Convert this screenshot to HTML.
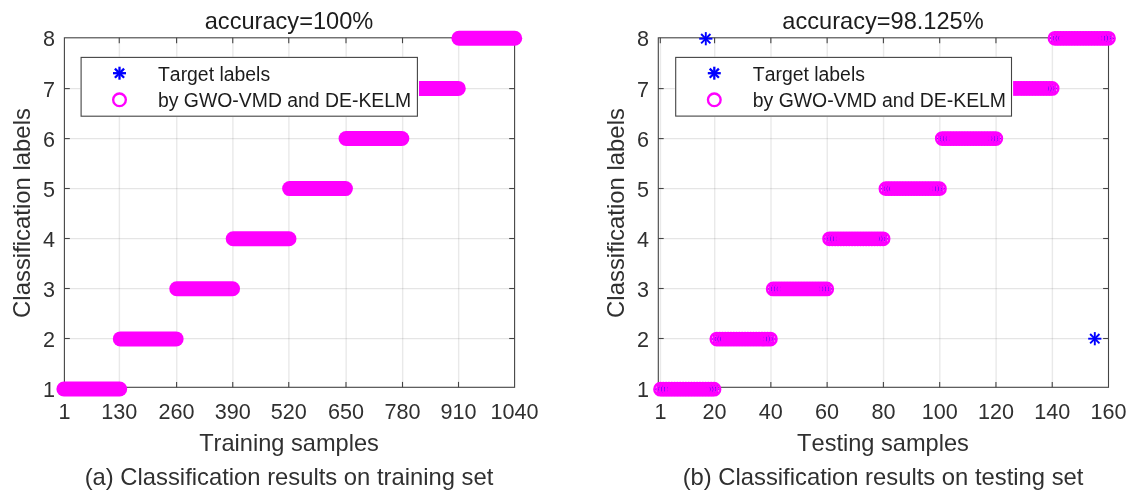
<!DOCTYPE html>
<html><head><meta charset="utf-8"><title>Classification results</title>
<style>html,body{margin:0;padding:0;background:#ffffff;}body{width:1135px;height:501px;overflow:hidden;font-family:"Liberation Sans",sans-serif;}svg{display:block;font-family:"Liberation Sans",sans-serif;font-kerning:none;}</style>
</head><body>
<svg width="1135" height="501" viewBox="0 0 1135 501">
<defs><filter id="idf" filterUnits="userSpaceOnUse" x="0" y="0" width="1135" height="501"><feColorMatrix type="matrix" values="1 0 0 0 0 0 1 0 0 0 0 0 1 0 0 0 0 0 1 0"/></filter></defs>
<rect x="0" y="0" width="1135" height="501" fill="#ffffff"/>
<g filter="url(#idf)">
<g stroke="#000000" stroke-opacity="0.085" stroke-width="1.45">
<line x1="119.40" y1="37.8" x2="119.40" y2="387.3"/>
<line x1="176.75" y1="37.8" x2="176.75" y2="387.3"/>
<line x1="232.90" y1="37.8" x2="232.90" y2="387.3"/>
<line x1="288.90" y1="37.8" x2="288.90" y2="387.3"/>
<line x1="346.15" y1="37.8" x2="346.15" y2="387.3"/>
<line x1="402.65" y1="37.8" x2="402.65" y2="387.3"/>
<line x1="458.65" y1="37.8" x2="458.65" y2="387.3"/>
</g>
<g stroke="#000000" stroke-opacity="0.10" stroke-width="1.2">
<line x1="64.4" y1="88.70" x2="514.6" y2="88.70"/>
<line x1="64.4" y1="138.70" x2="514.6" y2="138.70"/>
<line x1="64.4" y1="188.60" x2="514.6" y2="188.60"/>
<line x1="64.4" y1="238.60" x2="514.6" y2="238.60"/>
<line x1="64.4" y1="288.60" x2="514.6" y2="288.60"/>
<line x1="64.4" y1="338.60" x2="514.6" y2="338.60"/>
</g>
<g stroke="#444444" stroke-width="1.1" fill="none">
<rect x="64.4" y="37.8" width="450.20000000000005" height="349.5"/>
<line x1="119.25" y1="387.3" x2="119.25" y2="381.90000000000003"/>
<line x1="119.25" y1="37.8" x2="119.25" y2="43.199999999999996"/>
<line x1="176.6" y1="387.3" x2="176.6" y2="381.90000000000003"/>
<line x1="176.6" y1="37.8" x2="176.6" y2="43.199999999999996"/>
<line x1="232.75" y1="387.3" x2="232.75" y2="381.90000000000003"/>
<line x1="232.75" y1="37.8" x2="232.75" y2="43.199999999999996"/>
<line x1="288.75" y1="387.3" x2="288.75" y2="381.90000000000003"/>
<line x1="288.75" y1="37.8" x2="288.75" y2="43.199999999999996"/>
<line x1="346.0" y1="387.3" x2="346.0" y2="381.90000000000003"/>
<line x1="346.0" y1="37.8" x2="346.0" y2="43.199999999999996"/>
<line x1="402.5" y1="387.3" x2="402.5" y2="381.90000000000003"/>
<line x1="402.5" y1="37.8" x2="402.5" y2="43.199999999999996"/>
<line x1="458.5" y1="387.3" x2="458.5" y2="381.90000000000003"/>
<line x1="458.5" y1="37.8" x2="458.5" y2="43.199999999999996"/>
<line x1="64.4" y1="88.6" x2="69.80000000000001" y2="88.6"/>
<line x1="514.6" y1="88.6" x2="509.20000000000005" y2="88.6"/>
<line x1="64.4" y1="138.6" x2="69.80000000000001" y2="138.6"/>
<line x1="514.6" y1="138.6" x2="509.20000000000005" y2="138.6"/>
<line x1="64.4" y1="188.5" x2="69.80000000000001" y2="188.5"/>
<line x1="514.6" y1="188.5" x2="509.20000000000005" y2="188.5"/>
<line x1="64.4" y1="238.5" x2="69.80000000000001" y2="238.5"/>
<line x1="514.6" y1="238.5" x2="509.20000000000005" y2="238.5"/>
<line x1="64.4" y1="288.5" x2="69.80000000000001" y2="288.5"/>
<line x1="514.6" y1="288.5" x2="509.20000000000005" y2="288.5"/>
<line x1="64.4" y1="338.5" x2="69.80000000000001" y2="338.5"/>
<line x1="514.6" y1="338.5" x2="509.20000000000005" y2="338.5"/>
</g>
<rect x="56.40" y="381.50" width="70.80" height="15.00" rx="7.5" ry="7.5" fill="#ff00ff"/>
<rect x="112.83" y="331.40" width="70.80" height="15.00" rx="7.5" ry="7.5" fill="#ff00ff"/>
<rect x="169.26" y="281.30" width="70.80" height="15.00" rx="7.5" ry="7.5" fill="#ff00ff"/>
<rect x="225.69" y="231.20" width="70.80" height="15.00" rx="7.5" ry="7.5" fill="#ff00ff"/>
<rect x="282.12" y="181.10" width="70.80" height="15.00" rx="7.5" ry="7.5" fill="#ff00ff"/>
<rect x="338.55" y="131.00" width="70.80" height="15.00" rx="7.5" ry="7.5" fill="#ff00ff"/>
<rect x="394.98" y="80.90" width="70.80" height="15.00" rx="7.5" ry="7.5" fill="#ff00ff"/>
<rect x="451.41" y="30.80" width="70.80" height="15.00" rx="7.5" ry="7.5" fill="#ff00ff"/>
<rect x="80.3" y="56.8" width="338.70" height="60.20" fill="#ffffff"/>
<rect x="81.1" y="57.4" width="336.30" height="58.80" fill="#ffffff" stroke="#444444" stroke-width="1.1"/>
<g stroke="#0000ff" stroke-width="2.3" stroke-linecap="butt"><line x1="113.00" y1="73.20" x2="126.00" y2="73.20"/><line x1="114.90" y1="68.60" x2="124.10" y2="77.80"/><line x1="119.50" y1="66.70" x2="119.50" y2="79.70"/><line x1="124.10" y1="68.60" x2="114.90" y2="77.80"/></g>
<circle cx="119.5" cy="99.8" r="6.35" fill="none" stroke="#ff00ff" stroke-width="2.35"/>
<g font-size="19.4" fill="#1c1c1c">
<text x="158.0" y="80.9">Target labels</text>
<text x="158.0" y="106.7">by GWO-VMD and DE-KELM</text>
</g>
<g font-size="21.6" fill="#303030">
<text x="64.4" y="419.2" text-anchor="middle">1</text>
<text x="119.25" y="419.2" text-anchor="middle">130</text>
<text x="176.6" y="419.2" text-anchor="middle">260</text>
<text x="232.75" y="419.2" text-anchor="middle">390</text>
<text x="288.75" y="419.2" text-anchor="middle">520</text>
<text x="346.0" y="419.2" text-anchor="middle">650</text>
<text x="402.5" y="419.2" text-anchor="middle">780</text>
<text x="458.5" y="419.2" text-anchor="middle">910</text>
<text x="514.6" y="419.2" text-anchor="middle">1040</text>
<text x="55.0" y="397.4" text-anchor="end">1</text>
<text x="55.0" y="347.25" text-anchor="end">2</text>
<text x="55.0" y="297.09999999999997" text-anchor="end">3</text>
<text x="55.0" y="246.95" text-anchor="end">4</text>
<text x="55.0" y="196.79999999999998" text-anchor="end">5</text>
<text x="55.0" y="146.64999999999998" text-anchor="end">6</text>
<text x="55.0" y="96.5" text-anchor="end">7</text>
<text x="55.0" y="46.349999999999966" text-anchor="end">8</text>
</g>
<text x="289.0" y="29.0" font-size="23.6" fill="#1c1c1c" text-anchor="middle">accuracy=100%</text>
<text x="289.0" y="451.3" font-size="23.6" fill="#303030" text-anchor="middle">Training samples</text>
<text transform="translate(30.0,213.0) rotate(-90)" font-size="23.9" fill="#303030" text-anchor="middle">Classification labels</text>
<text x="289.0" y="484.6" font-size="23.8" fill="#303030" text-anchor="middle">(a) Classification results on training set</text>
<g stroke="#000000" stroke-opacity="0.085" stroke-width="1.45">
<line x1="660.45" y1="37.8" x2="660.45" y2="387.3"/>
<line x1="714.72" y1="37.8" x2="714.72" y2="387.3"/>
<line x1="771.00" y1="37.8" x2="771.00" y2="387.3"/>
<line x1="827.27" y1="37.8" x2="827.27" y2="387.3"/>
<line x1="883.55" y1="37.8" x2="883.55" y2="387.3"/>
<line x1="939.82" y1="37.8" x2="939.82" y2="387.3"/>
<line x1="996.10" y1="37.8" x2="996.10" y2="387.3"/>
<line x1="1052.38" y1="37.8" x2="1052.38" y2="387.3"/>
</g>
<g stroke="#000000" stroke-opacity="0.10" stroke-width="1.2">
<line x1="658.3" y1="88.70" x2="1108.5" y2="88.70"/>
<line x1="658.3" y1="138.70" x2="1108.5" y2="138.70"/>
<line x1="658.3" y1="188.60" x2="1108.5" y2="188.60"/>
<line x1="658.3" y1="238.60" x2="1108.5" y2="238.60"/>
<line x1="658.3" y1="288.60" x2="1108.5" y2="288.60"/>
<line x1="658.3" y1="338.60" x2="1108.5" y2="338.60"/>
</g>
<g stroke="#444444" stroke-width="1.1" fill="none">
<rect x="658.3" y="37.8" width="450.20000000000005" height="349.5"/>
<line x1="660.3" y1="387.3" x2="660.3" y2="381.90000000000003"/>
<line x1="660.3" y1="37.8" x2="660.3" y2="43.199999999999996"/>
<line x1="714.5749999999999" y1="387.3" x2="714.5749999999999" y2="381.90000000000003"/>
<line x1="714.5749999999999" y1="37.8" x2="714.5749999999999" y2="43.199999999999996"/>
<line x1="770.8499999999999" y1="387.3" x2="770.8499999999999" y2="381.90000000000003"/>
<line x1="770.8499999999999" y1="37.8" x2="770.8499999999999" y2="43.199999999999996"/>
<line x1="827.125" y1="387.3" x2="827.125" y2="381.90000000000003"/>
<line x1="827.125" y1="37.8" x2="827.125" y2="43.199999999999996"/>
<line x1="883.4" y1="387.3" x2="883.4" y2="381.90000000000003"/>
<line x1="883.4" y1="37.8" x2="883.4" y2="43.199999999999996"/>
<line x1="939.675" y1="387.3" x2="939.675" y2="381.90000000000003"/>
<line x1="939.675" y1="37.8" x2="939.675" y2="43.199999999999996"/>
<line x1="995.95" y1="387.3" x2="995.95" y2="381.90000000000003"/>
<line x1="995.95" y1="37.8" x2="995.95" y2="43.199999999999996"/>
<line x1="1052.225" y1="387.3" x2="1052.225" y2="381.90000000000003"/>
<line x1="1052.225" y1="37.8" x2="1052.225" y2="43.199999999999996"/>
<line x1="658.3" y1="88.6" x2="663.6999999999999" y2="88.6"/>
<line x1="1108.5" y1="88.6" x2="1103.1" y2="88.6"/>
<line x1="658.3" y1="138.6" x2="663.6999999999999" y2="138.6"/>
<line x1="1108.5" y1="138.6" x2="1103.1" y2="138.6"/>
<line x1="658.3" y1="188.5" x2="663.6999999999999" y2="188.5"/>
<line x1="1108.5" y1="188.5" x2="1103.1" y2="188.5"/>
<line x1="658.3" y1="238.5" x2="663.6999999999999" y2="238.5"/>
<line x1="1108.5" y1="238.5" x2="1103.1" y2="238.5"/>
<line x1="658.3" y1="288.5" x2="663.6999999999999" y2="288.5"/>
<line x1="1108.5" y1="288.5" x2="1103.1" y2="288.5"/>
<line x1="658.3" y1="338.5" x2="663.6999999999999" y2="338.5"/>
<line x1="1108.5" y1="338.5" x2="1103.1" y2="338.5"/>
</g>
<rect x="661.50" y="383.95" width="51.53" height="10.4" fill="#ff00ff"/>
<rect x="717.85" y="333.83" width="51.53" height="10.4" fill="#ff00ff"/>
<rect x="774.20" y="283.71" width="51.53" height="10.4" fill="#ff00ff"/>
<rect x="830.56" y="233.59" width="51.53" height="10.4" fill="#ff00ff"/>
<rect x="886.91" y="183.47" width="51.53" height="10.4" fill="#ff00ff"/>
<rect x="943.26" y="133.35" width="51.53" height="10.4" fill="#ff00ff"/>
<rect x="999.61" y="83.23" width="51.53" height="10.4" fill="#ff00ff"/>
<rect x="1055.97" y="33.11" width="51.53" height="10.4" fill="#ff00ff"/>
<g stroke="#0000ff" stroke-width="1.3" stroke-linecap="butt">
<line x1="654.00" y1="389.15" x2="667.00" y2="389.15"/>
<line x1="655.90" y1="384.55" x2="665.10" y2="393.75"/>
<line x1="660.50" y1="382.65" x2="660.50" y2="395.65"/>
<line x1="665.10" y1="384.55" x2="655.90" y2="393.75"/>
<line x1="656.82" y1="389.15" x2="669.82" y2="389.15"/>
<line x1="658.72" y1="384.55" x2="667.91" y2="393.75"/>
<line x1="663.32" y1="382.65" x2="663.32" y2="395.65"/>
<line x1="667.91" y1="384.55" x2="658.72" y2="393.75"/>
<line x1="659.64" y1="389.15" x2="672.64" y2="389.15"/>
<line x1="661.54" y1="384.55" x2="670.73" y2="393.75"/>
<line x1="666.14" y1="382.65" x2="666.14" y2="395.65"/>
<line x1="670.73" y1="384.55" x2="661.54" y2="393.75"/>
<line x1="701.90" y1="389.15" x2="714.90" y2="389.15"/>
<line x1="703.80" y1="384.55" x2="713.00" y2="393.75"/>
<line x1="708.40" y1="382.65" x2="708.40" y2="395.65"/>
<line x1="713.00" y1="384.55" x2="703.80" y2="393.75"/>
<line x1="704.72" y1="389.15" x2="717.72" y2="389.15"/>
<line x1="706.62" y1="384.55" x2="715.81" y2="393.75"/>
<line x1="711.22" y1="382.65" x2="711.22" y2="395.65"/>
<line x1="715.81" y1="384.55" x2="706.62" y2="393.75"/>
<line x1="707.53" y1="389.15" x2="720.53" y2="389.15"/>
<line x1="709.44" y1="384.55" x2="718.63" y2="393.75"/>
<line x1="714.03" y1="382.65" x2="714.03" y2="395.65"/>
<line x1="718.63" y1="384.55" x2="709.44" y2="393.75"/>
<line x1="710.35" y1="339.03" x2="723.35" y2="339.03"/>
<line x1="712.26" y1="334.43" x2="721.45" y2="343.63"/>
<line x1="716.85" y1="332.53" x2="716.85" y2="345.53"/>
<line x1="721.45" y1="334.43" x2="712.26" y2="343.63"/>
<line x1="713.17" y1="339.03" x2="726.17" y2="339.03"/>
<line x1="715.07" y1="334.43" x2="724.27" y2="343.63"/>
<line x1="719.67" y1="332.53" x2="719.67" y2="345.53"/>
<line x1="724.27" y1="334.43" x2="715.07" y2="343.63"/>
<line x1="715.99" y1="339.03" x2="728.99" y2="339.03"/>
<line x1="717.89" y1="334.43" x2="727.08" y2="343.63"/>
<line x1="722.49" y1="332.53" x2="722.49" y2="345.53"/>
<line x1="727.08" y1="334.43" x2="717.89" y2="343.63"/>
<line x1="758.25" y1="339.03" x2="771.25" y2="339.03"/>
<line x1="760.16" y1="334.43" x2="769.35" y2="343.63"/>
<line x1="764.75" y1="332.53" x2="764.75" y2="345.53"/>
<line x1="769.35" y1="334.43" x2="760.16" y2="343.63"/>
<line x1="761.07" y1="339.03" x2="774.07" y2="339.03"/>
<line x1="762.97" y1="334.43" x2="772.17" y2="343.63"/>
<line x1="767.57" y1="332.53" x2="767.57" y2="345.53"/>
<line x1="772.17" y1="334.43" x2="762.97" y2="343.63"/>
<line x1="763.89" y1="339.03" x2="776.89" y2="339.03"/>
<line x1="765.79" y1="334.43" x2="774.98" y2="343.63"/>
<line x1="770.39" y1="332.53" x2="770.39" y2="345.53"/>
<line x1="774.98" y1="334.43" x2="765.79" y2="343.63"/>
<line x1="766.70" y1="288.91" x2="779.70" y2="288.91"/>
<line x1="768.61" y1="284.31" x2="777.80" y2="293.51"/>
<line x1="773.20" y1="282.41" x2="773.20" y2="295.41"/>
<line x1="777.80" y1="284.31" x2="768.61" y2="293.51"/>
<line x1="769.52" y1="288.91" x2="782.52" y2="288.91"/>
<line x1="771.43" y1="284.31" x2="780.62" y2="293.51"/>
<line x1="776.02" y1="282.41" x2="776.02" y2="295.41"/>
<line x1="780.62" y1="284.31" x2="771.43" y2="293.51"/>
<line x1="772.34" y1="288.91" x2="785.34" y2="288.91"/>
<line x1="774.24" y1="284.31" x2="783.44" y2="293.51"/>
<line x1="778.84" y1="282.41" x2="778.84" y2="295.41"/>
<line x1="783.44" y1="284.31" x2="774.24" y2="293.51"/>
<line x1="814.60" y1="288.91" x2="827.60" y2="288.91"/>
<line x1="816.51" y1="284.31" x2="825.70" y2="293.51"/>
<line x1="821.10" y1="282.41" x2="821.10" y2="295.41"/>
<line x1="825.70" y1="284.31" x2="816.51" y2="293.51"/>
<line x1="817.42" y1="288.91" x2="830.42" y2="288.91"/>
<line x1="819.33" y1="284.31" x2="828.52" y2="293.51"/>
<line x1="823.92" y1="282.41" x2="823.92" y2="295.41"/>
<line x1="828.52" y1="284.31" x2="819.33" y2="293.51"/>
<line x1="820.24" y1="288.91" x2="833.24" y2="288.91"/>
<line x1="822.14" y1="284.31" x2="831.34" y2="293.51"/>
<line x1="826.74" y1="282.41" x2="826.74" y2="295.41"/>
<line x1="831.34" y1="284.31" x2="822.14" y2="293.51"/>
<line x1="823.06" y1="238.79" x2="836.06" y2="238.79"/>
<line x1="824.96" y1="234.19" x2="834.15" y2="243.39"/>
<line x1="829.56" y1="232.29" x2="829.56" y2="245.29"/>
<line x1="834.15" y1="234.19" x2="824.96" y2="243.39"/>
<line x1="825.87" y1="238.79" x2="838.87" y2="238.79"/>
<line x1="827.78" y1="234.19" x2="836.97" y2="243.39"/>
<line x1="832.37" y1="232.29" x2="832.37" y2="245.29"/>
<line x1="836.97" y1="234.19" x2="827.78" y2="243.39"/>
<line x1="828.69" y1="238.79" x2="841.69" y2="238.79"/>
<line x1="830.60" y1="234.19" x2="839.79" y2="243.39"/>
<line x1="835.19" y1="232.29" x2="835.19" y2="245.29"/>
<line x1="839.79" y1="234.19" x2="830.60" y2="243.39"/>
<line x1="870.96" y1="238.79" x2="883.96" y2="238.79"/>
<line x1="872.86" y1="234.19" x2="882.05" y2="243.39"/>
<line x1="877.46" y1="232.29" x2="877.46" y2="245.29"/>
<line x1="882.05" y1="234.19" x2="872.86" y2="243.39"/>
<line x1="873.77" y1="238.79" x2="886.77" y2="238.79"/>
<line x1="875.68" y1="234.19" x2="884.87" y2="243.39"/>
<line x1="880.27" y1="232.29" x2="880.27" y2="245.29"/>
<line x1="884.87" y1="234.19" x2="875.68" y2="243.39"/>
<line x1="876.59" y1="238.79" x2="889.59" y2="238.79"/>
<line x1="878.50" y1="234.19" x2="887.69" y2="243.39"/>
<line x1="883.09" y1="232.29" x2="883.09" y2="245.29"/>
<line x1="887.69" y1="234.19" x2="878.50" y2="243.39"/>
<line x1="879.41" y1="188.67" x2="892.41" y2="188.67"/>
<line x1="881.31" y1="184.07" x2="890.50" y2="193.27"/>
<line x1="885.91" y1="182.17" x2="885.91" y2="195.17"/>
<line x1="890.50" y1="184.07" x2="881.31" y2="193.27"/>
<line x1="882.23" y1="188.67" x2="895.23" y2="188.67"/>
<line x1="884.13" y1="184.07" x2="893.32" y2="193.27"/>
<line x1="888.73" y1="182.17" x2="888.73" y2="195.17"/>
<line x1="893.32" y1="184.07" x2="884.13" y2="193.27"/>
<line x1="885.04" y1="188.67" x2="898.04" y2="188.67"/>
<line x1="886.95" y1="184.07" x2="896.14" y2="193.27"/>
<line x1="891.54" y1="182.17" x2="891.54" y2="195.17"/>
<line x1="896.14" y1="184.07" x2="886.95" y2="193.27"/>
<line x1="927.31" y1="188.67" x2="940.31" y2="188.67"/>
<line x1="929.21" y1="184.07" x2="938.40" y2="193.27"/>
<line x1="933.81" y1="182.17" x2="933.81" y2="195.17"/>
<line x1="938.40" y1="184.07" x2="929.21" y2="193.27"/>
<line x1="930.13" y1="188.67" x2="943.13" y2="188.67"/>
<line x1="932.03" y1="184.07" x2="941.22" y2="193.27"/>
<line x1="936.63" y1="182.17" x2="936.63" y2="195.17"/>
<line x1="941.22" y1="184.07" x2="932.03" y2="193.27"/>
<line x1="932.94" y1="188.67" x2="945.94" y2="188.67"/>
<line x1="934.85" y1="184.07" x2="944.04" y2="193.27"/>
<line x1="939.44" y1="182.17" x2="939.44" y2="195.17"/>
<line x1="944.04" y1="184.07" x2="934.85" y2="193.27"/>
<line x1="935.76" y1="138.55" x2="948.76" y2="138.55"/>
<line x1="937.66" y1="133.95" x2="946.86" y2="143.15"/>
<line x1="942.26" y1="132.05" x2="942.26" y2="145.05"/>
<line x1="946.86" y1="133.95" x2="937.66" y2="143.15"/>
<line x1="938.58" y1="138.55" x2="951.58" y2="138.55"/>
<line x1="940.48" y1="133.95" x2="949.67" y2="143.15"/>
<line x1="945.08" y1="132.05" x2="945.08" y2="145.05"/>
<line x1="949.67" y1="133.95" x2="940.48" y2="143.15"/>
<line x1="941.40" y1="138.55" x2="954.40" y2="138.55"/>
<line x1="943.30" y1="133.95" x2="952.49" y2="143.15"/>
<line x1="947.90" y1="132.05" x2="947.90" y2="145.05"/>
<line x1="952.49" y1="133.95" x2="943.30" y2="143.15"/>
<line x1="983.66" y1="138.55" x2="996.66" y2="138.55"/>
<line x1="985.56" y1="133.95" x2="994.76" y2="143.15"/>
<line x1="990.16" y1="132.05" x2="990.16" y2="145.05"/>
<line x1="994.76" y1="133.95" x2="985.56" y2="143.15"/>
<line x1="986.48" y1="138.55" x2="999.48" y2="138.55"/>
<line x1="988.38" y1="133.95" x2="997.57" y2="143.15"/>
<line x1="992.98" y1="132.05" x2="992.98" y2="145.05"/>
<line x1="997.57" y1="133.95" x2="988.38" y2="143.15"/>
<line x1="989.30" y1="138.55" x2="1002.30" y2="138.55"/>
<line x1="991.20" y1="133.95" x2="1000.39" y2="143.15"/>
<line x1="995.80" y1="132.05" x2="995.80" y2="145.05"/>
<line x1="1000.39" y1="133.95" x2="991.20" y2="143.15"/>
<line x1="992.11" y1="88.43" x2="1005.11" y2="88.43"/>
<line x1="994.02" y1="83.83" x2="1003.21" y2="93.03"/>
<line x1="998.61" y1="81.93" x2="998.61" y2="94.93"/>
<line x1="1003.21" y1="83.83" x2="994.02" y2="93.03"/>
<line x1="994.93" y1="88.43" x2="1007.93" y2="88.43"/>
<line x1="996.83" y1="83.83" x2="1006.03" y2="93.03"/>
<line x1="1001.43" y1="81.93" x2="1001.43" y2="94.93"/>
<line x1="1006.03" y1="83.83" x2="996.83" y2="93.03"/>
<line x1="997.75" y1="88.43" x2="1010.75" y2="88.43"/>
<line x1="999.65" y1="83.83" x2="1008.84" y2="93.03"/>
<line x1="1004.25" y1="81.93" x2="1004.25" y2="94.93"/>
<line x1="1008.84" y1="83.83" x2="999.65" y2="93.03"/>
<line x1="1040.01" y1="88.43" x2="1053.01" y2="88.43"/>
<line x1="1041.92" y1="83.83" x2="1051.11" y2="93.03"/>
<line x1="1046.51" y1="81.93" x2="1046.51" y2="94.93"/>
<line x1="1051.11" y1="83.83" x2="1041.92" y2="93.03"/>
<line x1="1042.83" y1="88.43" x2="1055.83" y2="88.43"/>
<line x1="1044.73" y1="83.83" x2="1053.93" y2="93.03"/>
<line x1="1049.33" y1="81.93" x2="1049.33" y2="94.93"/>
<line x1="1053.93" y1="83.83" x2="1044.73" y2="93.03"/>
<line x1="1045.65" y1="88.43" x2="1058.65" y2="88.43"/>
<line x1="1047.55" y1="83.83" x2="1056.74" y2="93.03"/>
<line x1="1052.15" y1="81.93" x2="1052.15" y2="94.93"/>
<line x1="1056.74" y1="83.83" x2="1047.55" y2="93.03"/>
<line x1="1048.47" y1="38.31" x2="1061.47" y2="38.31"/>
<line x1="1050.37" y1="33.71" x2="1059.56" y2="42.91"/>
<line x1="1054.97" y1="31.81" x2="1054.97" y2="44.81"/>
<line x1="1059.56" y1="33.71" x2="1050.37" y2="42.91"/>
<line x1="1051.28" y1="38.31" x2="1064.28" y2="38.31"/>
<line x1="1053.19" y1="33.71" x2="1062.38" y2="42.91"/>
<line x1="1057.78" y1="31.81" x2="1057.78" y2="44.81"/>
<line x1="1062.38" y1="33.71" x2="1053.19" y2="42.91"/>
<line x1="1054.10" y1="38.31" x2="1067.10" y2="38.31"/>
<line x1="1056.00" y1="33.71" x2="1065.20" y2="42.91"/>
<line x1="1060.60" y1="31.81" x2="1060.60" y2="44.81"/>
<line x1="1065.20" y1="33.71" x2="1056.00" y2="42.91"/>
<line x1="1096.36" y1="38.31" x2="1109.36" y2="38.31"/>
<line x1="1098.27" y1="33.71" x2="1107.46" y2="42.91"/>
<line x1="1102.86" y1="31.81" x2="1102.86" y2="44.81"/>
<line x1="1107.46" y1="33.71" x2="1098.27" y2="42.91"/>
<line x1="1099.18" y1="38.31" x2="1112.18" y2="38.31"/>
<line x1="1101.09" y1="33.71" x2="1110.28" y2="42.91"/>
<line x1="1105.68" y1="31.81" x2="1105.68" y2="44.81"/>
<line x1="1110.28" y1="33.71" x2="1101.09" y2="42.91"/>
<line x1="1102.00" y1="38.31" x2="1115.00" y2="38.31"/>
<line x1="1103.90" y1="33.71" x2="1113.10" y2="42.91"/>
<line x1="1108.50" y1="31.81" x2="1108.50" y2="44.81"/>
<line x1="1113.10" y1="33.71" x2="1103.90" y2="42.91"/>
</g>
<g fill="none" stroke="#ff00ff" stroke-width="2.5">
<circle cx="660.50" cy="389.15" r="6.15"/>
<circle cx="663.32" cy="389.15" r="6.15"/>
<circle cx="666.14" cy="389.15" r="6.15"/>
<circle cx="668.95" cy="389.15" r="6.15"/>
<circle cx="671.77" cy="389.15" r="6.15"/>
<circle cx="674.59" cy="389.15" r="6.15"/>
<circle cx="677.41" cy="389.15" r="6.15"/>
<circle cx="680.22" cy="389.15" r="6.15"/>
<circle cx="683.04" cy="389.15" r="6.15"/>
<circle cx="685.86" cy="389.15" r="6.15"/>
<circle cx="688.68" cy="389.15" r="6.15"/>
<circle cx="691.49" cy="389.15" r="6.15"/>
<circle cx="694.31" cy="389.15" r="6.15"/>
<circle cx="697.13" cy="389.15" r="6.15"/>
<circle cx="699.95" cy="389.15" r="6.15"/>
<circle cx="702.76" cy="389.15" r="6.15"/>
<circle cx="705.58" cy="389.15" r="6.15"/>
<circle cx="708.40" cy="389.15" r="6.15"/>
<circle cx="711.22" cy="389.15" r="6.15"/>
<circle cx="714.03" cy="389.15" r="6.15"/>
<circle cx="716.85" cy="339.03" r="6.15"/>
<circle cx="719.67" cy="339.03" r="6.15"/>
<circle cx="722.49" cy="339.03" r="6.15"/>
<circle cx="725.31" cy="339.03" r="6.15"/>
<circle cx="728.12" cy="339.03" r="6.15"/>
<circle cx="730.94" cy="339.03" r="6.15"/>
<circle cx="733.76" cy="339.03" r="6.15"/>
<circle cx="736.58" cy="339.03" r="6.15"/>
<circle cx="739.39" cy="339.03" r="6.15"/>
<circle cx="742.21" cy="339.03" r="6.15"/>
<circle cx="745.03" cy="339.03" r="6.15"/>
<circle cx="747.85" cy="339.03" r="6.15"/>
<circle cx="750.66" cy="339.03" r="6.15"/>
<circle cx="753.48" cy="339.03" r="6.15"/>
<circle cx="756.30" cy="339.03" r="6.15"/>
<circle cx="759.12" cy="339.03" r="6.15"/>
<circle cx="761.93" cy="339.03" r="6.15"/>
<circle cx="764.75" cy="339.03" r="6.15"/>
<circle cx="767.57" cy="339.03" r="6.15"/>
<circle cx="770.39" cy="339.03" r="6.15"/>
<circle cx="773.20" cy="288.91" r="6.15"/>
<circle cx="776.02" cy="288.91" r="6.15"/>
<circle cx="778.84" cy="288.91" r="6.15"/>
<circle cx="781.66" cy="288.91" r="6.15"/>
<circle cx="784.47" cy="288.91" r="6.15"/>
<circle cx="787.29" cy="288.91" r="6.15"/>
<circle cx="790.11" cy="288.91" r="6.15"/>
<circle cx="792.93" cy="288.91" r="6.15"/>
<circle cx="795.75" cy="288.91" r="6.15"/>
<circle cx="798.56" cy="288.91" r="6.15"/>
<circle cx="801.38" cy="288.91" r="6.15"/>
<circle cx="804.20" cy="288.91" r="6.15"/>
<circle cx="807.02" cy="288.91" r="6.15"/>
<circle cx="809.83" cy="288.91" r="6.15"/>
<circle cx="812.65" cy="288.91" r="6.15"/>
<circle cx="815.47" cy="288.91" r="6.15"/>
<circle cx="818.29" cy="288.91" r="6.15"/>
<circle cx="821.10" cy="288.91" r="6.15"/>
<circle cx="823.92" cy="288.91" r="6.15"/>
<circle cx="826.74" cy="288.91" r="6.15"/>
<circle cx="829.56" cy="238.79" r="6.15"/>
<circle cx="832.37" cy="238.79" r="6.15"/>
<circle cx="835.19" cy="238.79" r="6.15"/>
<circle cx="838.01" cy="238.79" r="6.15"/>
<circle cx="840.83" cy="238.79" r="6.15"/>
<circle cx="843.64" cy="238.79" r="6.15"/>
<circle cx="846.46" cy="238.79" r="6.15"/>
<circle cx="849.28" cy="238.79" r="6.15"/>
<circle cx="852.10" cy="238.79" r="6.15"/>
<circle cx="854.92" cy="238.79" r="6.15"/>
<circle cx="857.73" cy="238.79" r="6.15"/>
<circle cx="860.55" cy="238.79" r="6.15"/>
<circle cx="863.37" cy="238.79" r="6.15"/>
<circle cx="866.19" cy="238.79" r="6.15"/>
<circle cx="869.00" cy="238.79" r="6.15"/>
<circle cx="871.82" cy="238.79" r="6.15"/>
<circle cx="874.64" cy="238.79" r="6.15"/>
<circle cx="877.46" cy="238.79" r="6.15"/>
<circle cx="880.27" cy="238.79" r="6.15"/>
<circle cx="883.09" cy="238.79" r="6.15"/>
<circle cx="885.91" cy="188.67" r="6.15"/>
<circle cx="888.73" cy="188.67" r="6.15"/>
<circle cx="891.54" cy="188.67" r="6.15"/>
<circle cx="894.36" cy="188.67" r="6.15"/>
<circle cx="897.18" cy="188.67" r="6.15"/>
<circle cx="900.00" cy="188.67" r="6.15"/>
<circle cx="902.81" cy="188.67" r="6.15"/>
<circle cx="905.63" cy="188.67" r="6.15"/>
<circle cx="908.45" cy="188.67" r="6.15"/>
<circle cx="911.27" cy="188.67" r="6.15"/>
<circle cx="914.08" cy="188.67" r="6.15"/>
<circle cx="916.90" cy="188.67" r="6.15"/>
<circle cx="919.72" cy="188.67" r="6.15"/>
<circle cx="922.54" cy="188.67" r="6.15"/>
<circle cx="925.36" cy="188.67" r="6.15"/>
<circle cx="928.17" cy="188.67" r="6.15"/>
<circle cx="930.99" cy="188.67" r="6.15"/>
<circle cx="933.81" cy="188.67" r="6.15"/>
<circle cx="936.63" cy="188.67" r="6.15"/>
<circle cx="939.44" cy="188.67" r="6.15"/>
<circle cx="942.26" cy="138.55" r="6.15"/>
<circle cx="945.08" cy="138.55" r="6.15"/>
<circle cx="947.90" cy="138.55" r="6.15"/>
<circle cx="950.71" cy="138.55" r="6.15"/>
<circle cx="953.53" cy="138.55" r="6.15"/>
<circle cx="956.35" cy="138.55" r="6.15"/>
<circle cx="959.17" cy="138.55" r="6.15"/>
<circle cx="961.98" cy="138.55" r="6.15"/>
<circle cx="964.80" cy="138.55" r="6.15"/>
<circle cx="967.62" cy="138.55" r="6.15"/>
<circle cx="970.44" cy="138.55" r="6.15"/>
<circle cx="973.25" cy="138.55" r="6.15"/>
<circle cx="976.07" cy="138.55" r="6.15"/>
<circle cx="978.89" cy="138.55" r="6.15"/>
<circle cx="981.71" cy="138.55" r="6.15"/>
<circle cx="984.53" cy="138.55" r="6.15"/>
<circle cx="987.34" cy="138.55" r="6.15"/>
<circle cx="990.16" cy="138.55" r="6.15"/>
<circle cx="992.98" cy="138.55" r="6.15"/>
<circle cx="995.80" cy="138.55" r="6.15"/>
<circle cx="998.61" cy="88.43" r="6.15"/>
<circle cx="1001.43" cy="88.43" r="6.15"/>
<circle cx="1004.25" cy="88.43" r="6.15"/>
<circle cx="1007.07" cy="88.43" r="6.15"/>
<circle cx="1009.88" cy="88.43" r="6.15"/>
<circle cx="1012.70" cy="88.43" r="6.15"/>
<circle cx="1015.52" cy="88.43" r="6.15"/>
<circle cx="1018.34" cy="88.43" r="6.15"/>
<circle cx="1021.15" cy="88.43" r="6.15"/>
<circle cx="1023.97" cy="88.43" r="6.15"/>
<circle cx="1026.79" cy="88.43" r="6.15"/>
<circle cx="1029.61" cy="88.43" r="6.15"/>
<circle cx="1032.42" cy="88.43" r="6.15"/>
<circle cx="1035.24" cy="88.43" r="6.15"/>
<circle cx="1038.06" cy="88.43" r="6.15"/>
<circle cx="1040.88" cy="88.43" r="6.15"/>
<circle cx="1043.69" cy="88.43" r="6.15"/>
<circle cx="1046.51" cy="88.43" r="6.15"/>
<circle cx="1049.33" cy="88.43" r="6.15"/>
<circle cx="1052.15" cy="88.43" r="6.15"/>
<circle cx="1054.97" cy="38.31" r="6.15"/>
<circle cx="1057.78" cy="38.31" r="6.15"/>
<circle cx="1060.60" cy="38.31" r="6.15"/>
<circle cx="1063.42" cy="38.31" r="6.15"/>
<circle cx="1066.24" cy="38.31" r="6.15"/>
<circle cx="1069.05" cy="38.31" r="6.15"/>
<circle cx="1071.87" cy="38.31" r="6.15"/>
<circle cx="1074.69" cy="38.31" r="6.15"/>
<circle cx="1077.51" cy="38.31" r="6.15"/>
<circle cx="1080.32" cy="38.31" r="6.15"/>
<circle cx="1083.14" cy="38.31" r="6.15"/>
<circle cx="1085.96" cy="38.31" r="6.15"/>
<circle cx="1088.78" cy="38.31" r="6.15"/>
<circle cx="1091.59" cy="38.31" r="6.15"/>
<circle cx="1094.41" cy="38.31" r="6.15"/>
<circle cx="1097.23" cy="38.31" r="6.15"/>
<circle cx="1100.05" cy="38.31" r="6.15"/>
<circle cx="1102.86" cy="38.31" r="6.15"/>
<circle cx="1105.68" cy="38.31" r="6.15"/>
<circle cx="1108.50" cy="38.31" r="6.15"/>
</g>
<g stroke="#0000ff" stroke-width="1.9" stroke-linecap="butt"><line x1="699.20" y1="38.70" x2="712.40" y2="38.70"/><line x1="701.13" y1="34.03" x2="710.47" y2="43.37"/><line x1="705.80" y1="32.10" x2="705.80" y2="45.30"/><line x1="710.47" y1="34.03" x2="701.13" y2="43.37"/></g>
<g stroke="#0000ff" stroke-width="1.9" stroke-linecap="butt"><line x1="1088.20" y1="338.70" x2="1101.40" y2="338.70"/><line x1="1090.13" y1="334.03" x2="1099.47" y2="343.37"/><line x1="1094.80" y1="332.10" x2="1094.80" y2="345.30"/><line x1="1099.47" y1="334.03" x2="1090.13" y2="343.37"/></g>
<rect x="674.9000000000001" y="56.8" width="338.20" height="60.10" fill="#ffffff"/>
<rect x="675.7" y="57.4" width="335.80" height="58.70" fill="#ffffff" stroke="#444444" stroke-width="1.1"/>
<g stroke="#0000ff" stroke-width="2.3" stroke-linecap="butt"><line x1="707.80" y1="73.20" x2="720.80" y2="73.20"/><line x1="709.70" y1="68.60" x2="718.90" y2="77.80"/><line x1="714.30" y1="66.70" x2="714.30" y2="79.70"/><line x1="718.90" y1="68.60" x2="709.70" y2="77.80"/></g>
<circle cx="714.3" cy="99.8" r="6.35" fill="none" stroke="#ff00ff" stroke-width="2.35"/>
<g font-size="19.4" fill="#1c1c1c">
<text x="752.8" y="80.9">Target labels</text>
<text x="752.8" y="106.7">by GWO-VMD and DE-KELM</text>
</g>
<g font-size="21.6" fill="#303030">
<text x="660.6" y="419.2" text-anchor="middle">1</text>
<text x="714.5749999999999" y="419.2" text-anchor="middle">20</text>
<text x="770.8499999999999" y="419.2" text-anchor="middle">40</text>
<text x="827.125" y="419.2" text-anchor="middle">60</text>
<text x="883.4" y="419.2" text-anchor="middle">80</text>
<text x="939.675" y="419.2" text-anchor="middle">100</text>
<text x="995.95" y="419.2" text-anchor="middle">120</text>
<text x="1052.225" y="419.2" text-anchor="middle">140</text>
<text x="1108.5" y="419.2" text-anchor="middle">160</text>
<text x="649.0" y="397.4" text-anchor="end">1</text>
<text x="649.0" y="347.25" text-anchor="end">2</text>
<text x="649.0" y="297.09999999999997" text-anchor="end">3</text>
<text x="649.0" y="246.95" text-anchor="end">4</text>
<text x="649.0" y="196.79999999999998" text-anchor="end">5</text>
<text x="649.0" y="146.64999999999998" text-anchor="end">6</text>
<text x="649.0" y="96.5" text-anchor="end">7</text>
<text x="649.0" y="46.349999999999966" text-anchor="end">8</text>
</g>
<text x="883.0" y="29.0" font-size="23.6" fill="#1c1c1c" text-anchor="middle">accuracy=98.125%</text>
<text x="883.0" y="451.3" font-size="23.6" fill="#303030" text-anchor="middle">Testing samples</text>
<text transform="translate(624.0,213.0) rotate(-90)" font-size="23.9" fill="#303030" text-anchor="middle">Classification labels</text>
<text x="883.0" y="484.6" font-size="23.8" fill="#303030" text-anchor="middle">(b) Classification results on testing set</text>
</g>
</svg></body></html>
